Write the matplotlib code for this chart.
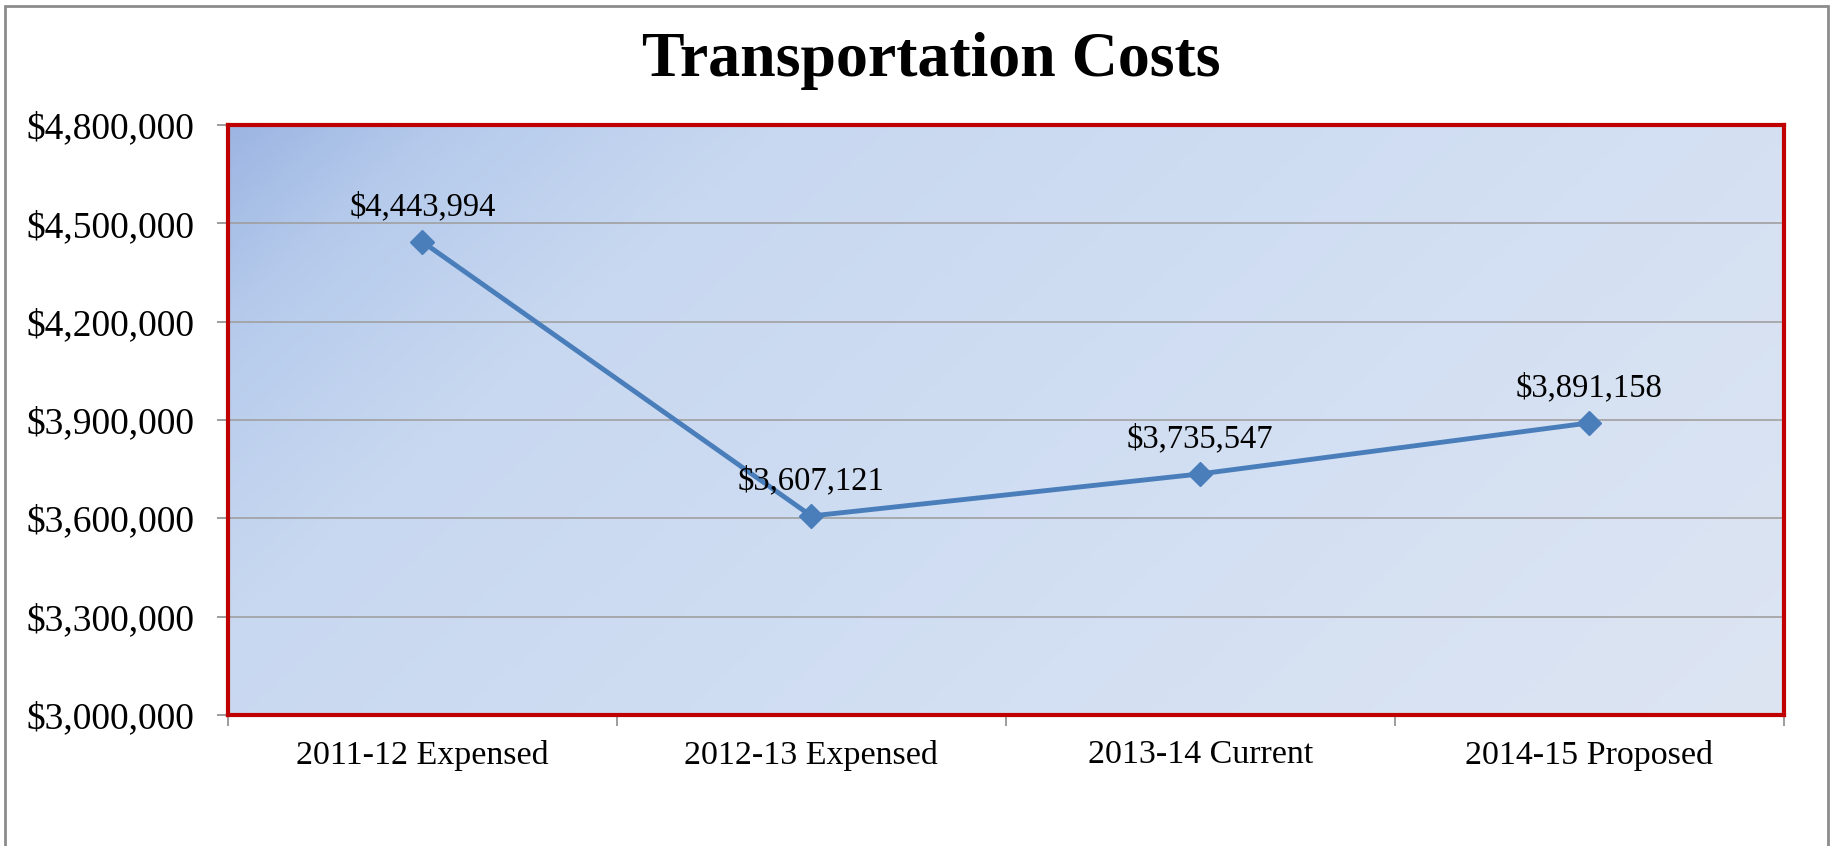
import numpy as np
import matplotlib.pyplot as plt
from matplotlib.colors import LinearSegmentedColormap
from matplotlib.patches import Rectangle
from matplotlib.ticker import FuncFormatter

# transportation costs by fiscal year
years = ['2011-12 Expensed', '2012-13 Expensed', '2013-14 Current', '2014-15 Proposed']
costs = [4443994, 3607121, 3735547, 3891158]
yticks = [3000000, 3300000, 3600000, 3900000, 4200000, 4500000, 4800000]

serif = ['Liberation Serif', 'DejaVu Serif']
blue = '#4a7ebb'

fig = plt.figure(figsize=(18.33, 8.46), dpi=100)
ax = fig.add_axes([0.1244, 0.155, 0.8486, 0.697])

# outer chart frame (bottom edge runs off the page)
fig.patches.append(Rectangle((0.003, -0.05), 0.994, 1.043, transform=fig.transFigure,
                             fill=False, edgecolor='#8c8c8c', linewidth=2))

# gradient fill, darker in the top-left corner
nx, ny = 400, 200
gx, gy = np.meshgrid(np.linspace(0, 1, nx), np.linspace(0, 1, ny))
d = (gx * 2.4 + gy) / 3.4
grad = LinearSegmentedColormap.from_list('bg', [(0, '#9cb5e2'), (0.1, '#b6cbec'),
                                                (0.25, '#c8d8f0'), (0.5, '#cfddf2'),
                                                (1, '#dde5f3')])
ax.imshow(d, cmap=grad, extent=[0, 1, 0, 1], transform=ax.transAxes,
          aspect='auto', zorder=0, origin='upper')

x = np.arange(len(years))
ax.set_xlim(-0.5, len(years) - 0.5)
ax.set_ylim(3000000, 4800000)
ax.set_yticks(yticks)
ax.yaxis.set_major_formatter(FuncFormatter(lambda v, p: '${:,.0f}'.format(v)))
ax.grid(axis='y', color='#a0a0a0', linewidth=1.2, zorder=1)
ax.set_axisbelow(True)

ax.plot(x, costs, color=blue, linewidth=3.5, marker='D', markersize=12, zorder=3)
for xi, c in zip(x, costs):
    ax.annotate('${:,}'.format(c), (xi, c), xytext=(0, 14), textcoords='offset points',
                ha='center', va='bottom', fontsize=23.5, family=serif, zorder=4)

ax.set_xticks(x)
ax.set_xticklabels(years, family=serif, fontsize=24.5)
ax.set_xticks(np.arange(-0.5, len(years)), minor=True)
ax.tick_params(axis='x', which='major', length=0, pad=18)
ax.tick_params(axis='x', which='minor', length=8, color='#8c8c8c', width=1.2)
ax.tick_params(axis='y', length=8, color='#8c8c8c', width=1.2, pad=16)
for lbl in ax.get_yticklabels():
    lbl.set_family(serif)
    lbl.set_fontsize(27)

for s in ax.spines.values():
    s.set_color('#c00000')
    s.set_linewidth(3)
    s.set_zorder(5)

fig.text(0.508, 0.928, 'Transportation Costs', ha='center', va='center',
         fontsize=46, fontweight='bold', family=serif)

fig.savefig('out.png', dpi=100)
